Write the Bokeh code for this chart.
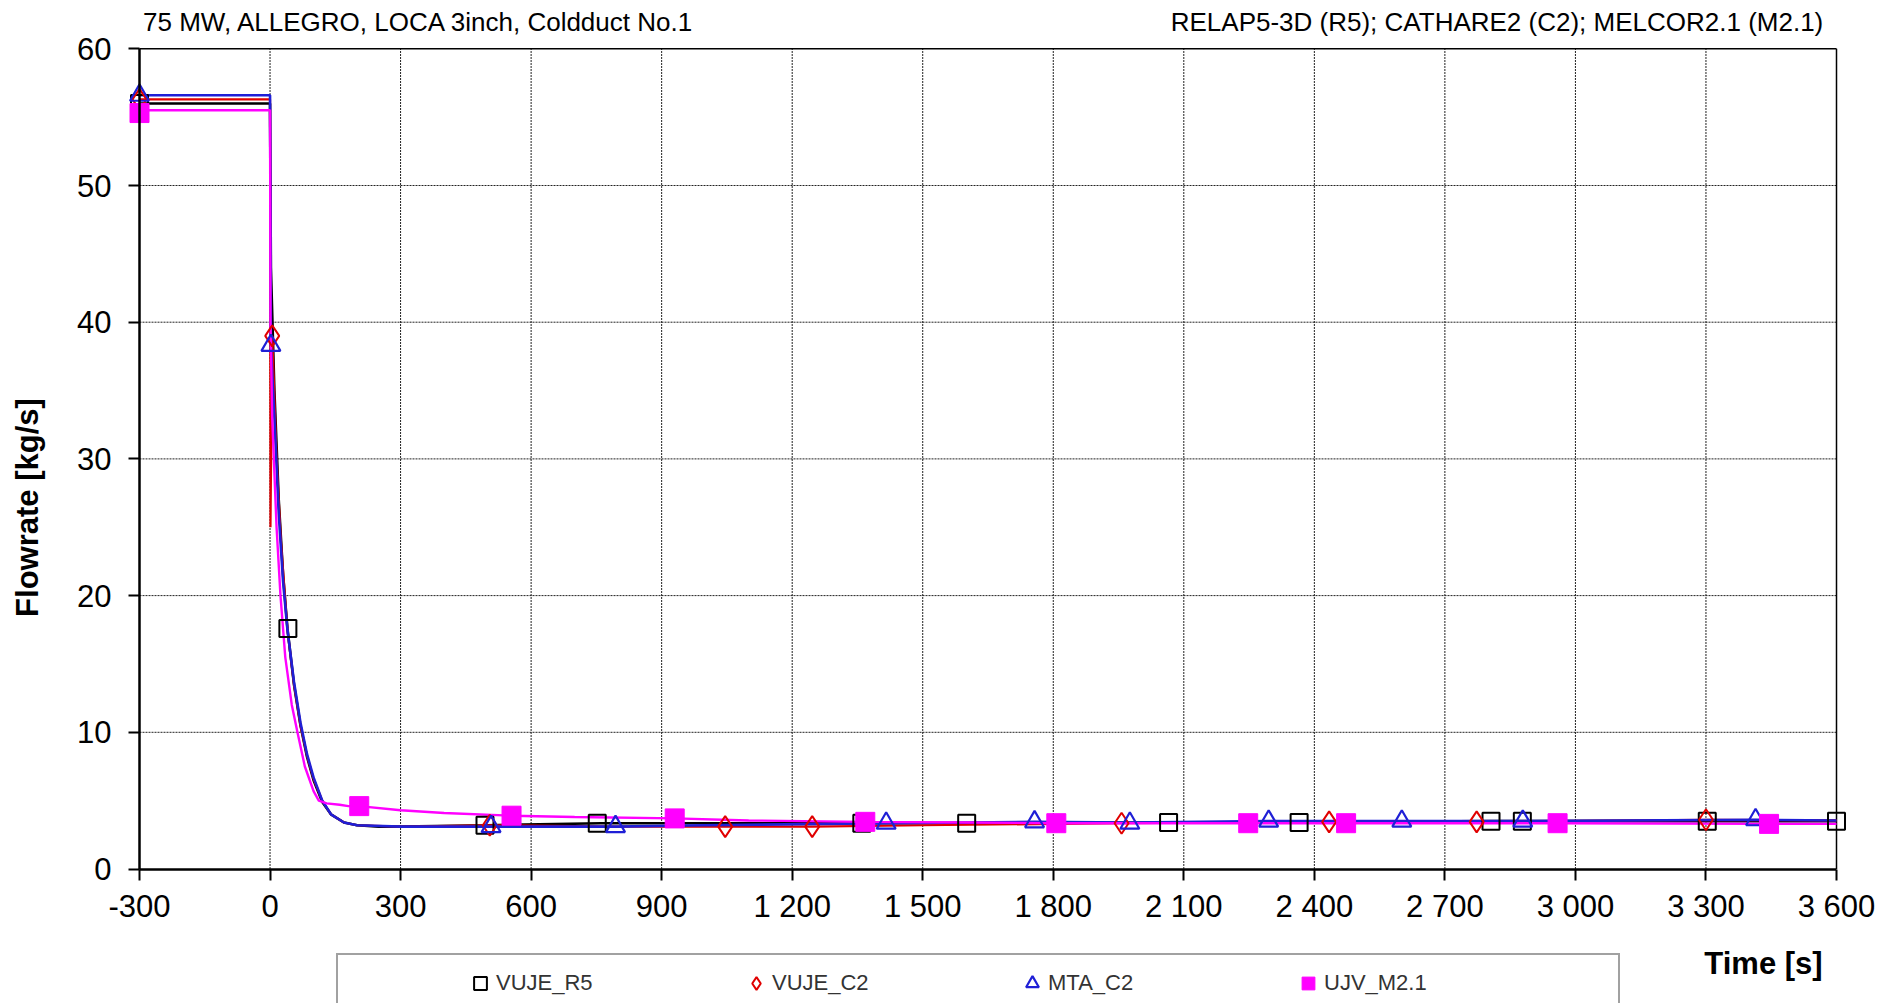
import math
from bokeh.plotting import figure
from bokeh.models import Range1d, FixedTicker, Label, Legend, LegendItem
from bokeh.embed import file_html
from bokeh.resources import INLINE

# ---------------- data ----------------
series_names = ["VUJE_R5", "VUJE_C2", "MTA_C2", "UJV_M2.1"]

# curves
r5_t = [-300, 0, 2, 10, 20, 30, 40, 55, 70, 85, 100, 120, 140, 170, 200, 250, 300, 500, 760, 1000, 1360, 1600, 2065, 2365, 2806, 2878, 3303, 3600]
r5_v = [56.0, 56.0, 44.0, 35.0, 27.0, 21.5, 17.6, 13.5, 10.5, 8.2, 6.5, 4.9, 4.0, 3.4, 3.2, 3.1, 3.1, 3.2, 3.35, 3.35, 3.35, 3.35, 3.4, 3.4, 3.5, 3.5, 3.5, 3.5]

c2_t = [-300, 0, 1, 5, 15, 25, 40, 55, 70, 85, 100, 120, 140, 170, 200, 300, 505, 800, 1046, 1246, 1500, 1957, 2434, 2773, 3300, 3600]
c2_v = [56.3, 56.3, 25.0, 39.0, 30.0, 24.0, 17.5, 13.5, 10.5, 8.3, 6.6, 5.0, 4.0, 3.4, 3.2, 3.1, 3.2, 3.1, 3.1, 3.1, 3.2, 3.35, 3.45, 3.45, 3.6, 3.55]

mta_t = [-300, 0, 1, 2, 10, 20, 30, 40, 55, 70, 85, 100, 120, 140, 170, 200, 300, 508, 794, 1000, 1416, 1757, 1976, 2295, 2601, 2879, 3414, 3600]
mta_v = [56.6, 56.6, 48.0, 38.3, 33.0, 26.0, 21.0, 17.5, 13.7, 10.7, 8.4, 6.7, 5.0, 4.0, 3.4, 3.2, 3.1, 3.1, 3.1, 3.2, 3.35, 3.45, 3.4, 3.5, 3.5, 3.5, 3.6, 3.55]

m21_t = [-300, 0, 1, 5, 15, 24, 35, 50, 63, 80, 100, 112, 130, 160, 180, 205, 300, 400, 555, 700, 930, 1100, 1368, 1600, 1807, 2248, 2473, 2959, 3445, 3600]
m21_v = [55.5, 55.5, 40.0, 33.0, 25.0, 20.0, 15.5, 12.0, 10.0, 7.5, 5.7, 5.0, 4.8, 4.7, 4.6, 4.6, 4.3, 4.1, 3.9, 3.8, 3.7, 3.55, 3.45, 3.4, 3.35, 3.35, 3.35, 3.35, 3.3, 3.3]

# markers
r5_mt = [-300, 41, 494, 752, 1360, 1601, 2065, 2365, 2806, 2878, 3303, 3600]
r5_mv = [56.0, 17.6, 3.2, 3.35, 3.35, 3.35, 3.4, 3.4, 3.5, 3.5, 3.5, 3.5]

c2_mt = [-300, 5, 505, 1046, 1246, 1957, 2434, 2773, 3300]
c2_mv = [56.3, 39.0, 3.2, 3.1, 3.1, 3.35, 3.45, 3.45, 3.6]

mta_mt = [-300, 2, 508, 794, 1416, 1757, 1976, 2295, 2601, 2879, 3414]
mta_mv = [56.6, 38.3, 3.1, 3.1, 3.35, 3.45, 3.35, 3.5, 3.5, 3.5, 3.6]

m21_mt = [-300, 205, 555, 930, 1368, 1807, 2248, 2473, 2959, 3445]
m21_mv = [55.3, 4.6, 3.9, 3.7, 3.45, 3.35, 3.35, 3.35, 3.35, 3.3]

x_ticks = [-300, 0, 300, 600, 900, 1200, 1500, 1800, 2100, 2400, 2700, 3000, 3300, 3600]
x_tick_labels = ["-300", "0", "300", "600", "900", "1 200", "1 500", "1 800", "2 100", "2 400", "2 700", "3 000", "3 300", "3 600"]
y_ticks = [0, 10, 20, 30, 40, 50, 60]

title_left = "75 MW, ALLEGRO, LOCA 3inch, Coldduct No.1"
title_right = "RELAP5-3D (R5); CATHARE2  (C2); MELCOR2.1 (M2.1)"
x_label = "Time [s]"
y_label = "Flowrate [kg/s]"

FONT = "Liberation Sans"

# ---------------- layout (pixels) ----------------
W, H = 1894, 1003
PLOT_LEFT, PLOT_RIGHT = 139, 1836        # x = -300 .. 3600
PLOT_TOP, PLOT_BOTTOM = 48.3, 868.5      # y = 60 .. 0
x_lo, x_hi = x_ticks[0], x_ticks[-1]
y_lo, y_hi = y_ticks[0], y_ticks[-1]
ppx = (PLOT_RIGHT - PLOT_LEFT) / (x_hi - x_lo)
ppy = (PLOT_BOTTOM - PLOT_TOP) / (y_hi - y_lo)
xr = Range1d(x_lo - PLOT_LEFT / ppx, x_hi + (W - PLOT_RIGHT) / ppx)
yr = Range1d(y_lo - (H - PLOT_BOTTOM) / ppy, y_hi + PLOT_TOP / ppy)

p = figure(width=W, height=H, output_backend="svg", toolbar_location=None,
           x_range=xr, y_range=yr,
           min_border_left=0, min_border_right=0, min_border_top=0, min_border_bottom=0,
           background_fill_color="white", border_fill_color="white")
p.outline_line_color = None

for ax in (p.xaxis[0], p.yaxis[0]):
    ax.axis_line_color = "black"
    ax.axis_line_width = 2.5
    ax.major_tick_line_color = "black"
    ax.major_tick_line_width = 2
    ax.major_tick_in = 0
    ax.major_tick_out = 11
    ax.minor_tick_line_color = None
    ax.major_label_text_font = FONT
    ax.major_label_text_font_size = "31px"
    ax.major_label_text_color = "black"

xa = p.xaxis[0]
xa.ticker = FixedTicker(ticks=x_ticks)
xa.major_label_overrides = {t: l for t, l in zip(x_ticks, x_tick_labels)}
xa.major_label_standoff = 9
xa.fixed_location = y_lo
xa.bounds = (x_lo, x_hi)

ya = p.yaxis[0]
ya.ticker = FixedTicker(ticks=y_ticks)
ya.major_label_standoff = 17
ya.fixed_location = x_lo
ya.bounds = (y_lo, y_hi)

# grid (drawn only inside the data area)
p.xgrid[0].visible = False
p.ygrid[0].visible = False
inner_x = x_ticks[1:-1]
inner_y = y_ticks[1:-1]
p.segment(x0=inner_x, y0=[y_lo] * len(inner_x), x1=inner_x, y1=[y_hi] * len(inner_x),
          line_color="#222222", line_dash="2 1", line_width=1)
p.segment(x0=[x_lo] * len(inner_y), y0=inner_y, x1=[x_hi] * len(inner_y), y1=inner_y,
          line_color="#222222", line_dash="2 1", line_width=1)
# solid top and right frame lines
p.segment(x0=[x_lo, x_hi], y0=[y_hi, y_lo], x1=[x_hi, x_hi], y1=[y_hi, y_hi],
          line_color="black", line_width=1.5)

BLACK = "#000000"
RED = "#e00000"
BLUE = "#1f1fd6"
MAG = "#ff00ff"

p.line(r5_t, r5_v, line_color=BLACK, line_width=2.6)
p.line(c2_t, c2_v, line_color=RED, line_width=2.2)
p.line(mta_t, mta_v, line_color=BLUE, line_width=2.6)
p.line(m21_t, m21_v, line_color=MAG, line_width=2.4)

dummy = p.line(r5_t, r5_v, line_alpha=0)

s_r5 = p.scatter(r5_mt, r5_mv, marker="square", size=17, fill_color=None, line_color=BLACK, line_width=2)
s_c2 = p.scatter(c2_mt, c2_mv, marker="diamond", size=21, fill_color=None, line_color=RED, line_width=2)
s_mta = p.scatter(mta_mt, mta_mv, marker="triangle", size=19, fill_color=None, line_color=BLUE, line_width=2.2)
s_m21 = p.scatter(m21_mt, m21_mv, marker="square", size=19, fill_color=MAG, line_color=MAG, line_width=1)

# texts (screen units, frame == whole canvas)
p.add_layout(Label(x=142.5, y=H - 21.7, x_units="screen", y_units="screen", text=title_left,
                   text_font=FONT, text_font_size="26px", text_baseline="middle", text_align="left",
                   text_color="black"))
p.add_layout(Label(x=1830, y=H - 21.7, x_units="screen", y_units="screen", text=title_right,
                   text_font=FONT, text_font_size="26px", text_baseline="middle", text_align="right",
                   text_color="black"))
p.add_layout(Label(x=1763, y=H - 963, x_units="screen", y_units="screen", text=x_label,
                   text_font=FONT, text_font_size="31px", text_font_style="bold",
                   text_baseline="middle", text_align="center", text_color="black"))
p.add_layout(Label(x=26.6, y=H - 507, x_units="screen", y_units="screen", text=y_label,
                   angle=math.pi / 2, text_font=FONT, text_font_size="31px", text_font_style="bold",
                   text_baseline="middle", text_align="center", text_color="black"))

# legend frame + legend items
box = Legend(items=[LegendItem(label=" ", renderers=[dummy])], location=(336, -14),
             orientation="horizontal", padding=20, glyph_width=20, glyph_height=20,
             label_width=1215, label_standoff=5, border_line_color="#444444", border_line_width=2,
             background_fill_color="white", background_fill_alpha=1, label_text_font_size="20px")
p.add_layout(box)

legend = Legend(items=[LegendItem(label=series_names[0], renderers=[s_r5]),
                       LegendItem(label=series_names[1], renderers=[s_c2]),
                       LegendItem(label=series_names[2], renderers=[s_mta]),
                       LegendItem(label=series_names[3], renderers=[s_m21])],
                location=(464, 4), orientation="horizontal", padding=20,
                glyph_width=32, glyph_height=32, label_width=100, label_standoff=0, spacing=144,
                border_line_color=None, background_fill_alpha=0,
                label_text_font=FONT, label_text_font_size="22px", label_text_color="#333333")
p.add_layout(legend)

open("out.html", "w").write(file_html(p, INLINE))
